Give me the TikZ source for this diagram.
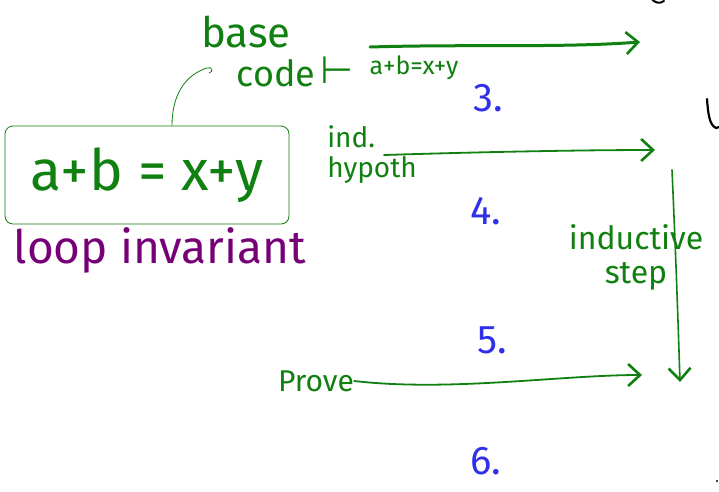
\documentclass[tikz,border=0pt]{standalone}
\usepackage{fontspec}
\setmainfont{Fira Sans}
\newfontfamily\symfont{DejaVu Sans}
\usetikzlibrary{arrows.meta}
\definecolor{pen}{RGB}{16,128,16}
\definecolor{num}{RGB}{48,48,235}
\definecolor{inv}{RGB}{118,0,118}
\tikzset{
  gtext/.style={text=pen, inner sep=0pt},
  ntext/.style={text=num, inner sep=0pt, font=\fontsize{40}{40}\selectfont},
  garrow/.style={draw=pen, line width=2.2pt, line cap=round,
     -{Straight Barb[length=12pt,width=22pt,line width=2.6pt]}},
  fsz/.style={font=\fontsize{#1}{#1}\selectfont}
}
\begin{document}
\begin{tikzpicture}[x=1pt,y=-1pt]
\useasboundingbox[fill=white] (0,0) rectangle (719,491);

% base case label
\node[gtext, fsz=42] (base) at (246,32) {base};
\node[gtext, fsz=36] (code) at (276,73) {code};
\node[gtext, font=\symfont\fontsize{38}{38}\selectfont] (turn) at (337,70) {⊢};
\node[gtext, fsz=25] (prem) at (414,68) {a+b=x+y};
\coordinate (t1s) at (370,47);
\coordinate (t1e) at (640,42);
\draw[garrow, line width=3pt] (t1s) .. controls (470,44) and (560,48) .. (t1e);

% invariant box
\node[draw=pen, line width=0.8pt, rounded corners=8pt, minimum width=284pt,
      minimum height=98pt, inner sep=0pt, text=pen, fsz=57] (invbox) at (147,175) {a+b = x+y};
\node[text=inv, inner sep=0pt, fsz=46] (loop) at (160,250) {loop invariant};

% annotation hook
\coordinate (hook) at (207,68);
\draw[pen, line width=0.8pt] ([xshift=25pt]invbox.north) .. controls (172,95) and (185,75) .. (hook)
   .. controls (212,66) and (214,72) .. (209,73);

% induction hypothesis
\node[gtext, fsz=28, align=left] (ih) at (372,155) {ind.\\[2pt]hypoth};
\coordinate (t2s) at (384,155);
\coordinate (t2e) at (655,150);
\draw[garrow, line width=1.8pt] (t2s) .. controls (480,152) and (580,150) .. (t2e);

% inductive step
\coordinate (t3s) at (672,170);
\coordinate (t3e) at (680,382);
\draw[garrow, line width=1.6pt] (t3s) .. controls (676,260) and (678,320) .. (t3e);
\node[gtext, fsz=32, align=center] (istep) at (636,257) {inductive\\[2pt]step};

% prove
\node[gtext, fsz=30] (prove) at (316,381) {Prove};
\coordinate (t4e) at (642,375);
\draw[garrow, line width=1.8pt] (prove.east) .. controls (450,392) and (560,375) .. (t4e);

% numbers
\node[ntext] (n3) at (488,98) {3.};
\node[ntext] (n4) at (486,211) {4.};
\node[ntext] (n5) at (492,340) {5.};
\node[ntext] (n6) at (486,461) {6.};

% black marks at the right edge
\draw[black, line width=2pt, line cap=round] (651,-2) .. controls (654,3) and (660,4) .. (664,1);
\draw[black, line width=2.2pt, line cap=round] (707,99) .. controls (708,112) and (709,125) .. (716,128) -- (719,127);
\fill[black] (717,481) circle (1.2pt);
\end{tikzpicture}
\end{document}
